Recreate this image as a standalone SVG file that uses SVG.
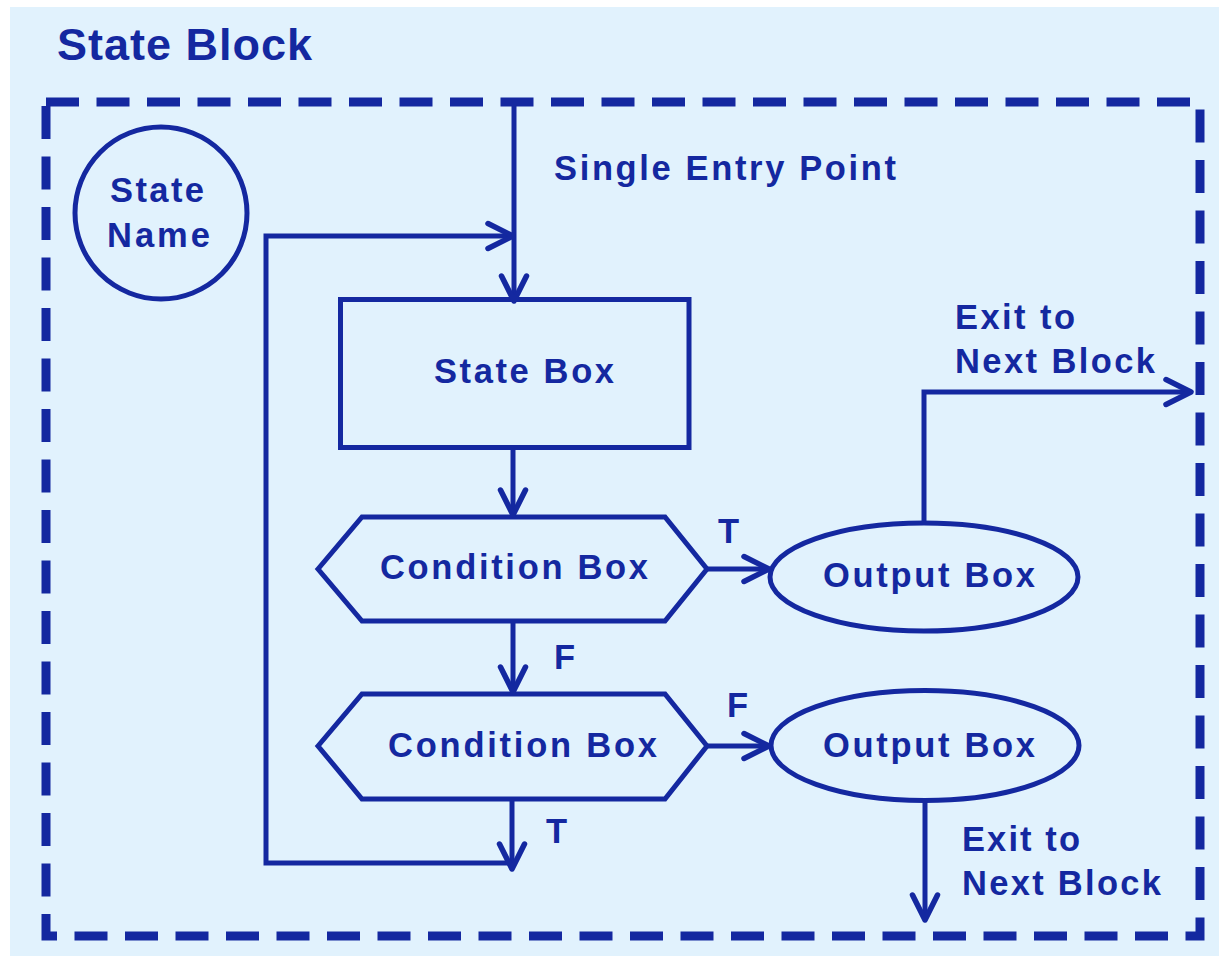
<svg xmlns="http://www.w3.org/2000/svg" width="1219" height="956" viewBox="0 0 1219 956">
<style>
.bg{fill:#E1F2FD}
.ln{fill:none;stroke:#1428A0;stroke-width:5}
.sh{fill:none;stroke:#1428A0;stroke-width:5;stroke-linejoin:miter}
.border{fill:none;stroke:#1428A0;stroke-width:9;stroke-dasharray:33 17.5}
.t{font-family:"Liberation Sans",Arial,sans-serif;font-weight:bold;fill:#1428A0;font-size:34.5px}
.title{font-size:45px}
</style>
<defs>
<marker id="arr" markerUnits="userSpaceOnUse" viewBox="-30 -16 34 32" markerWidth="34" markerHeight="32" refX="0" refY="0" orient="auto" overflow="visible">
<path d="M-25,-12.5 L0,0 L-25,12.5" fill="none" stroke="#1428A0" stroke-width="5.5" stroke-linejoin="round" stroke-linecap="round"/>
</marker>
</defs>
<rect class="bg" x="10" y="7" width="1209" height="949"/>
<g id="state-block">
<rect class="border" x="46" y="102" width="1154" height="834"/>
<text class="t title" x="57" y="60" textLength="255" lengthAdjust="spacing">State Block</text>
</g>
<g id="state-name">
<circle class="sh" cx="161" cy="213" r="86"/>
<text class="t" x="110" y="202" font-size="33" textLength="94" lengthAdjust="spacing">State</text>
<text class="t" x="107" y="247" font-size="33" textLength="103" lengthAdjust="spacing">Name</text>
</g>
<g id="state-box">
<rect class="sh" x="340.5" y="299.5" width="348.5" height="148"/>
<text class="t" x="434" y="383" textLength="180" lengthAdjust="spacing">State Box</text>
</g>
<g id="condition-box-1">
<polygon class="sh" points="318,569 362,517 665,517 707,569 665,621 362,621"/>
<text class="t" x="380" y="579" textLength="268" lengthAdjust="spacing">Condition Box</text>
</g>
<g id="condition-box-2">
<polygon class="sh" points="318,746 362,694 665,694 707,746 665,799 362,799"/>
<text class="t" x="388" y="757" textLength="269" lengthAdjust="spacing">Condition Box</text>
</g>
<g id="output-box-1">
<ellipse class="sh" cx="924" cy="577" rx="154" ry="54"/>
<text class="t" x="823" y="587" textLength="212" lengthAdjust="spacing">Output Box</text>
</g>
<g id="output-box-2">
<ellipse class="sh" cx="925" cy="745.5" rx="154" ry="55"/>
<text class="t" x="823" y="757" textLength="212" lengthAdjust="spacing">Output Box</text>
</g>
<g id="connectors">
<path class="ln" d="M514,102 V301" marker-end="url(#arr)"/>
<path class="ln" d="M512,863 H266 V236 H513" marker-end="url(#arr)"/>
<path class="ln" d="M513,450 V515" marker-end="url(#arr)"/>
<path class="ln" d="M513,621 V692" marker-end="url(#arr)"/>
<path class="ln" d="M512,799 V869" marker-end="url(#arr)"/>
<path class="ln" d="M707,569 H769" marker-end="url(#arr)"/>
<path class="ln" d="M707,746 H769" marker-end="url(#arr)"/>
<path class="ln" d="M924,523 V392 H1191" marker-end="url(#arr)"/>
<path class="ln" d="M925,801 V920" marker-end="url(#arr)"/>
</g>
<g id="labels">
<text class="t" x="554" y="180" textLength="342" lengthAdjust="spacing">Single Entry Point</text>
<text class="t" x="718" y="543">T</text>
<text class="t" x="554" y="669">F</text>
<text class="t" x="727" y="717">F</text>
<text class="t" x="546" y="843">T</text>
<text class="t" x="955" y="329" textLength="120" lengthAdjust="spacing">Exit to</text>
<text class="t" x="955" y="373" textLength="200" lengthAdjust="spacing">Next Block</text>
<text class="t" x="962" y="851" textLength="118" lengthAdjust="spacing">Exit to</text>
<text class="t" x="962" y="895" textLength="199" lengthAdjust="spacing">Next Block</text>
</g>
</svg>
